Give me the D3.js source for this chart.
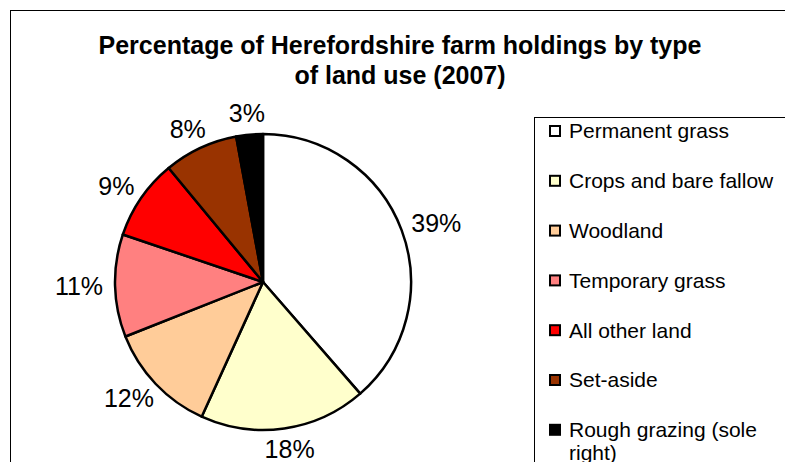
<!DOCTYPE html>
<html>
<head>
<meta charset="utf-8">
<script src="https://cdn.jsdelivr.net/npm/d3@7"></script>
<style>
  body { margin: 0; background: #fff; }
  svg { display: block; font-family: "Liberation Sans", Arial, sans-serif; }
</style>
</head>
<body>
<svg id="chart" width="785" height="462"></svg>
<script>
// Land use categories and their shares (percent)
const categories = [
  "Permanent grass",
  "Crops and bare fallow",
  "Woodland",
  "Temporary grass",
  "All other land",
  "Set-aside",
  "Rough grazing (sole right)"
];
const shares = [38.6, 18.2, 12.2, 11.2, 8.8, 8.1, 2.9];
const sliceColors = ["#ffffff", "#ffffcc", "#ffcc99", "#ff8080", "#ff0000", "#993300", "#000000"];
const titleLines = ["Percentage of Herefordshire farm holdings by type", "of land use (2007)"];

const CONFIG = {
  width: 785,
  height: 462,
  cx: 263,
  cy: 282,
  radius: 148,
  labelPad: 12,
  labelFont: 25,
  legend: { x: 534, y: 117, itemX: 549, textX: 569, firstY: 131, step: 49.8, font: 21, maxText: 206 }
};

const svg = d3.select("#chart");

svg.append("rect").attr("width", CONFIG.width).attr("height", CONFIG.height).attr("fill", "#fff");

// chart frame (runs off the right and bottom edges)
svg.append("rect")
  .attr("x", 10.5).attr("y", 10.5)
  .attr("width", 900).attr("height", 600)
  .attr("fill", "none").attr("stroke", "#000").attr("stroke-width", 1);

// title
svg.append("g")
  .selectAll("text")
  .data(titleLines)
  .join("text")
  .attr("x", 400)
  .attr("y", (d, i) => 54 + i * 30)
  .attr("text-anchor", "middle")
  .attr("font-weight", "bold")
  .attr("font-size", 25)
  .text(d => d);

// pie
const data = categories.map((name, i) => ({ name, value: shares[i], color: sliceColors[i] }));
const pie = d3.pie().sort(null).value(d => d.value);
const arcs = pie(data);
const arc = d3.arc().innerRadius(0).outerRadius(CONFIG.radius);
const fmt = d3.format(".0%");

const g = svg.append("g").attr("transform", `translate(${CONFIG.cx},${CONFIG.cy})`);

g.selectAll("path")
  .data(arcs)
  .join("path")
  .attr("d", arc)
  .attr("fill", d => d.data.color)
  .attr("stroke", "#000")
  .attr("stroke-width", 2.5)
  .attr("stroke-linejoin", "round");

// labels sit outside the slice, pushed out by half their box
const labels = g.selectAll("text.pct")
  .data(arcs)
  .join("text")
  .attr("class", "pct")
  .attr("font-size", CONFIG.labelFont)
  .attr("text-anchor", "middle")
  .attr("dy", "0.35em")
  .text(d => fmt(d.data.value / 100));

labels.each(function (d) {
  const w = this.getComputedTextLength();
  const h = CONFIG.labelFont * 0.72;
  const a = (d.startAngle + d.endAngle) / 2;
  const s = Math.sin(a), c = Math.cos(a);
  const r = CONFIG.radius + CONFIG.labelPad;
  const x = r * s + s * w / 2;
  const y = -r * c - c * h / 2;
  d3.select(this).attr("x", x).attr("y", y);
});

// legend
const L = CONFIG.legend;
svg.append("rect")
  .attr("x", L.x + 0.5).attr("y", L.y + 0.5)
  .attr("width", 400).attr("height", 400)
  .attr("fill", "#fff").attr("stroke", "#000").attr("stroke-width", 1);

const items = svg.append("g")
  .selectAll("g")
  .data(data)
  .join("g")
  .attr("transform", (d, i) => `translate(0,${L.firstY + i * L.step})`);

items.append("rect")
  .attr("x", L.itemX + 1).attr("y", -5)
  .attr("width", 10).attr("height", 10)
  .attr("fill", d => d.color)
  .attr("stroke", "#000")
  .attr("stroke-width", 2);

items.append("text")
  .attr("x", L.textX)
  .attr("font-size", L.font)
  .each(function (d) {
    // simple word wrap to fit the legend width
    const text = d3.select(this);
    const words = d.name.split(" ");
    let line = [];
    let lineNo = 0;
    let tspan = text.append("tspan").attr("x", L.textX).attr("y", 0).attr("dy", "0.35em");
    words.forEach(word => {
      line.push(word);
      tspan.text(line.join(" "));
      if (tspan.node().getComputedTextLength() > L.maxText && line.length > 1) {
        line.pop();
        tspan.text(line.join(" "));
        line = [word];
        lineNo++;
        tspan = text.append("tspan")
          .attr("x", L.textX)
          .attr("y", lineNo * 23)
          .attr("dy", "0.35em")
          .text(word);
      }
    });
  });
</script>
</body>
</html>
